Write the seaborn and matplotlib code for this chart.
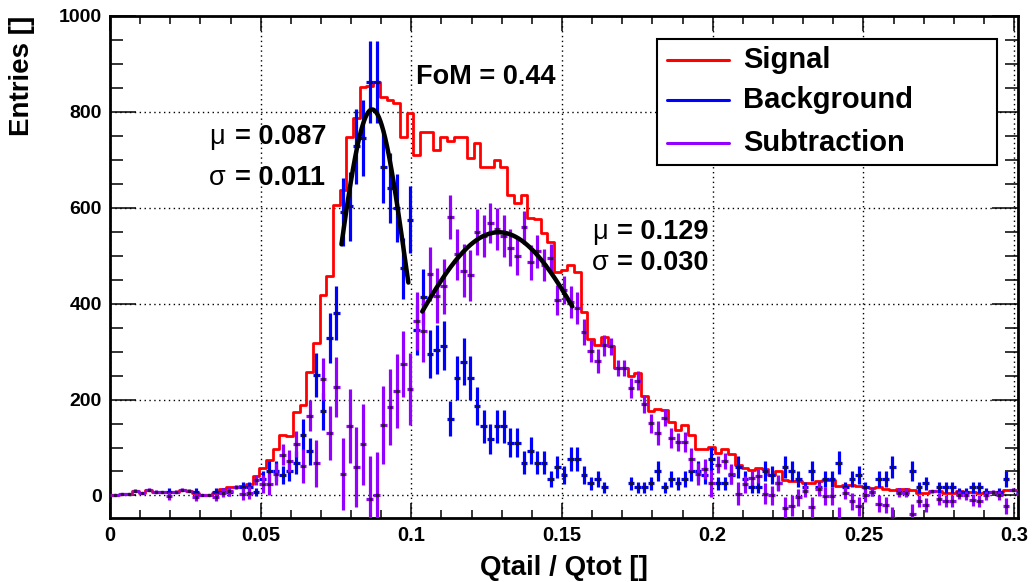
import matplotlib

matplotlib.use("Agg")

import matplotlib.pyplot as plt
import numpy as np
import pandas as pd
import seaborn as sns
from matplotlib.patches import Rectangle
from matplotlib.ticker import FuncFormatter, MultipleLocator

sns.set_theme(style="ticks")
plt.rcParams["font.family"] = ["Liberation Sans", "DejaVu Sans"]
plt.rcParams.update({"text.color": "black", "axes.labelcolor": "black",
                     "xtick.color": "black", "ytick.color": "black"})

# binning of the histograms (bins of 1/450, first edge slightly below 0)
BIN_WIDTH = 1 / 450
BIN_START = -0.7 / 450
BKG_SCALE = 8.45  # weight of one background entry

# Signal entries per bin (step histogram)
signal = [
    2, 2, 3, 3, 10, 5, 12, 8, 7, 7, 8, 12, 10, 5, 2, 1, 5, 14, 17, 17,
    20, 23, 40, 58, 75, 96, 127, 123, 175, 189, 258, 319, 419, 458, 606, 637,
    748, 787, 852, 855, 863, 832, 825, 818, 748, 797, 710, 758, 758, 721, 748,
    740, 748, 748, 704, 735, 686, 686, 700, 686, 627, 610, 627, 579, 577, 548,
    529, 467, 471, 480, 467, 383, 326, 314, 330, 311, 266, 266, 249, 256, 207,
    176, 181, 179, 153, 137, 146, 127, 96, 97, 101, 89, 97, 87, 63, 57, 53,
    58, 55, 42, 51, 33, 30, 30, 26, 26, 30, 33, 33, 19, 22, 22, 19, 17, 15,
    17, 14, 12, 14, 14, 12, 6, 6, 9, 9, 6, 6, 9, 8, 8, 5, 8, 8, 8, 12, 12, 12,
]

# Background entries per bin (scaled), 0 = empty bin
background = [
    0, 0, 0, 0, 0, 0, 0, 0, 0, 8, 0, 0, 0, 8, 0, 0, 8, 8, 8, 0,
    17, 17, 8, 34, 51, 51, 42, 51, 68, 127, 92, 252, 176, 328, 380, 592,
    603, 728, 745, 863, 863, 686, 641, 600, 474, 575, 346, 414, 296, 304, 312,
    160, 245, 279, 245, 186, 144, 118, 144, 144, 110, 110, 68, 93, 68, 68,
    34, 59, 42, 76, 76, 42, 25, 34, 17, 0, 0, 0, 25, 17, 17,
    25, 51, 17, 34, 25, 34, 51, 51, 42, 76, 25, 25, 42, 59, 34, 17,
    17, 51, 42, 25, 59, 51, 34, 17, 51, 17, 34, 34, 68, 17, 34, 42, 17, 8,
    34, 34, 59, 8, 8, 51, 17, 25, 0, 17, 17, 17, 8, 8, 17, 17, 8, 0, 8, 34, 0, 8,
]

# Gaussian fits: background peak and subtraction peak
fit_mu = [0.087, 0.129]
fit_sigma = [0.011, 0.030]
fit_amp = [805, 549]
fit_lo = [0.0768, 0.1036]
fit_hi = [0.099, 0.1534]

legend_labels = ["Signal", "Background", "Subtraction"]
colors = ["#ff0000", "#0000ff", "#9400ff"]

sig = np.array(signal, dtype=float)
bkg = np.array(background, dtype=float)
edges = BIN_START + BIN_WIDTH * np.arange(len(sig) + 1)
centers = edges[:-1] + BIN_WIDTH / 2
bkg_err = np.sqrt(BKG_SCALE * bkg)
sub = sig - bkg
sub_err = np.sqrt(sig + bkg_err ** 2)
hist_df = pd.DataFrame({"x": centers, "w": sig})

W, H = 1032, 582
fig = plt.figure(figsize=(W / 100, H / 100), dpi=100)
ax = fig.add_axes([110 / W, 1 - 518 / H, 908 / W, 502 / H])


def px(x, y):
    """pixel position of the picture -> axes fraction"""
    return (x - 110) / 908, (518 - y) / 502


sns.histplot(data=hist_df, x="x", weights="w", bins=edges.tolist(), element="step",
             fill=False, color=colors[0], linewidth=2.0, ax=ax, zorder=3)

has_b = bkg > 0
ax.errorbar(centers[has_b], bkg[has_b], xerr=BIN_WIDTH / 2, yerr=bkg_err[has_b],
            fmt="none", ecolor=colors[1], elinewidth=2.3, zorder=4)
ax.plot(centers[has_b], bkg[has_b], ls="none", marker="s", ms=1.4, color="#101040", zorder=4.5)

has_s = sub_err > 0
ax.errorbar(centers[has_s], sub[has_s], xerr=BIN_WIDTH / 2, yerr=sub_err[has_s],
            fmt="none", ecolor=colors[2], elinewidth=2.3, zorder=5)
ax.plot(centers[has_s], sub[has_s], ls="none", marker="s", ms=1.4, color="#301040", zorder=5.5)

for mu, sg, amp, lo, hi in zip(fit_mu, fit_sigma, fit_amp, fit_lo, fit_hi):
    xs = np.linspace(lo, hi, 200)
    sns.lineplot(x=xs, y=amp * np.exp(-0.5 * ((xs - mu) / sg) ** 2), color="black",
                 linewidth=3.2, ax=ax, zorder=6)

ax.set_xlim(0, 0.3013)
ax.set_ylim(-47, 1000)
ax.xaxis.set_major_locator(MultipleLocator(0.05))
ax.xaxis.set_minor_locator(MultipleLocator(0.01))
ax.yaxis.set_major_locator(MultipleLocator(200))
ax.yaxis.set_minor_locator(MultipleLocator(50))
ax.xaxis.set_major_formatter(FuncFormatter(lambda v, _: f"{v:g}"))
ax.yaxis.set_major_formatter(FuncFormatter(lambda v, _: f"{v:g}"))
ax.set_xlabel("")
ax.set_ylabel("")
ax.grid(True, which="major", color="black", linestyle=(0, (1, 2.5)), linewidth=1.0)
ax.tick_params(axis="x", which="major", direction="in", top=True, length=11, width=1.1,
               pad=6, labelsize=14.5)
ax.tick_params(axis="x", which="minor", direction="in", top=True, length=5.5, width=1.1)
ax.tick_params(axis="y", which="major", direction="in", right=True, length=19, width=1.1,
               pad=6, labelsize=14)
ax.tick_params(axis="y", which="minor", direction="in", right=True, length=9.5, width=1.1)
for lab in ax.get_xticklabels() + ax.get_yticklabels():
    lab.set_fontweight("bold")
for sp in ax.spines.values():
    sp.set_linewidth(2.0)
    sp.set_color("black")

fig.text(22 / W, 1 - 16 / H, "Entries []", rotation=90, ha="center", va="top",
         fontsize=20, fontweight="bold")
fig.text(564 / W, 1 - 555 / H, "Qtail / Qtot []", ha="center", va="top",
         fontsize=20, fontweight="bold")

# legend box
lx0, ly0 = px(657, 165)
lx1, ly1 = px(997, 39)
ax.add_patch(Rectangle((lx0, ly0), lx1 - lx0, ly1 - ly0, transform=ax.transAxes,
                       facecolor="white", edgecolor="black", linewidth=1.5, zorder=10))
for lab, col, row in zip(legend_labels, colors, [60, 100, 143]):
    xa, ya = px(667, row)
    xb, _ = px(729, row)
    ax.plot([xa, xb], [ya, ya], transform=ax.transAxes, color=col, lw=2.2, zorder=11)
    xt, _ = px(743, row)
    ax.text(xt, ya, lab, transform=ax.transAxes, ha="left", va="center",
            fontsize=21, fontweight="bold", zorder=11)

# fit annotations
txt = dict(transform=ax.transAxes, ha="left", va="center", fontsize=19.5, zorder=12)
ax.text(*px(416, 77), "FoM = 0.44", fontweight="bold", **txt)
for sym, val, x0, x1, y in [("\u03bc", "= 0.087", 209, 235, 137),
                            ("\u03c3", "= 0.011", 209, 235, 178),
                            ("\u03bc", "= 0.129", 592, 617, 232),
                            ("\u03c3", "= 0.030", 592, 617, 263)]:
    ax.text(*px(x0, y), sym, **txt)
    ax.text(*px(x1, y), val, fontweight="bold", **txt)

fig.savefig("out.png", dpi=100)
